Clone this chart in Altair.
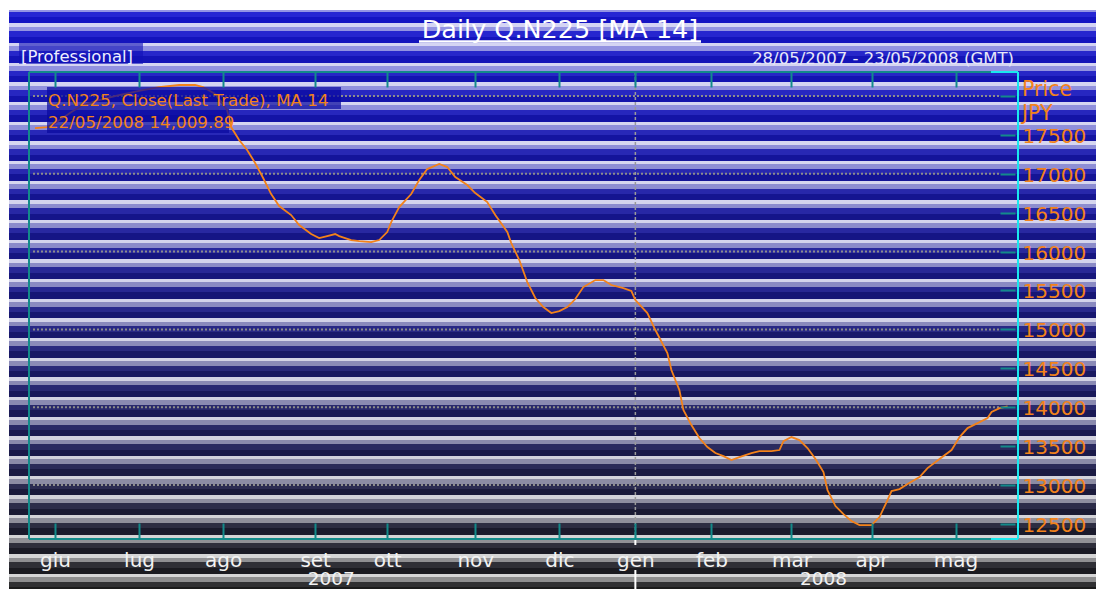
import altair as alt
import pandas as pd
import numpy as np

# ---------------- data ----------------
# x = trading-day index (0 = first trading day of June 2007)
day_idx = [-5, -2, 0, 4, 7, 11, 16, 21, 26, 31, 35, 37, 40, 43, 44, 46, 48, 50, 52, 54,
           56, 59, 61, 64, 66, 68, 70, 71, 74, 76, 79, 81, 83, 84, 86, 89, 91, 93, 96, 98,
           100, 103, 105, 108, 110, 113, 114, 116, 118, 120, 122, 124, 126, 128, 130, 132,
           135, 137, 139, 142, 144, 145, 148, 150, 153, 154, 156, 157, 159, 161, 163, 165,
           167, 169, 171, 174, 176, 179, 181, 182, 184, 186, 188, 190, 192, 193, 195, 197,
           199, 201, 204, 206, 208, 209, 211, 213, 216, 218, 221, 224, 226, 228, 231, 233,
           234, 236, 238]
ma14 = [17587, 17600, 17650, 17790, 17883, 17947, 18011, 18063, 18114, 18140, 18140, 18114,
        18024, 17819, 17600, 17433, 17305, 17137, 16945, 16739, 16585, 16469, 16341, 16225,
        16174, 16199, 16225, 16199, 16148, 16135, 16122, 16148, 16251, 16379, 16572, 16739,
        16919, 17060, 17125, 17086, 16958, 16855, 16752, 16636, 16469, 16251, 16109, 15891,
        15608, 15403, 15287, 15210, 15236, 15287, 15390, 15544, 15634, 15634, 15570, 15531,
        15493, 15377, 15210, 14992, 14696, 14478, 14220, 13964, 13771, 13604, 13488, 13411,
        13372, 13321, 13360, 13411, 13437, 13437, 13450, 13565, 13617, 13578, 13475, 13334,
        13167, 12935, 12730, 12627, 12537, 12486, 12486, 12589, 12807, 12923, 12948, 13013,
        13103, 13218, 13334, 13450, 13617, 13732, 13809, 13861, 13938, 13989, 14010]

month_tick_idx = [0, 21, 42, 65, 83, 105, 126, 145, 164, 184, 204, 225]
month_labels = ["giu", "lug", "ago", "set", "ott", "nov", "dic", "gen", "feb", "mar", "apr", "mag"]
year_labels = ["2007", "2008"]
year_label_idx = [69, 192]
year_break_idx = [145]
price_ticks = [12500, 13000, 13500, 14000, 14500, 15000, 15500, 16000, 16500, 17000, 17500, 18000]
grid_values = [13000, 14000, 15000, 16000, 17000, 18000]

title_text = "Daily Q.N225 [MA 14]"
edition_text = "[Professional]"
range_text = "28/05/2007 - 23/05/2008 (GMT)"
legend_line1 = "Q.N225, Close(Last Trade), MA 14"
legend_line2 = "22/05/2008 14,009.89"
axis_title_lines = ["Price", "JPY"]

# ---------------- style ----------------
FONT = "DejaVu Sans"
ORANGE = "#f3821a"
TEAL = "#138a8a"
CYAN = "#1ae8ee"
W, H = 989, 467

xscale = alt.Scale(domain=[-6.5, 240.6], nice=False, zero=False)
yscale = alt.Scale(domain=[12307, 18307], nice=False, zero=False)

line_df = pd.DataFrame({"idx": day_idx, "v": ma14})
one = pd.DataFrame({"a": [0]})

# ---------------- striped background (decoration) ----------------
def hex2rgb(h):
    return np.array([int(h[i:i + 2], 16) for i in (1, 3, 5)], dtype=float)

anch_y = [10, 150, 300, 450, 540, 589]
pal = {
    "light": ["#d4d4f4", "#d6d6f0", "#d2d2ea", "#d2d2de", "#d4d4d6", "#d6d6d6"],
    "medium": ["#9494e4", "#8e8ed8", "#8a8ac0", "#8a8aaa", "#909096", "#8c8c8c"],
    "blue": ["#2626d4", "#2828b4", "#28288e", "#2a2a5e", "#2e2e3c", "#303030"],
    "dark": ["#1414c6", "#14149c", "#161674", "#1a1a4a", "#1a1a28", "#1a1a1a"],
}

def col(kind, y):
    rgbs = np.array([hex2rgb(c) for c in pal[kind]])
    r = [np.interp(y, anch_y, rgbs[:, i]) for i in range(3)]
    return "#%02x%02x%02x" % tuple(int(round(v)) for v in r)

top_y, bot_y = 10.0, 589.0
period = 19.6
bands = [(0, 3.2, "light"), (3.2, 7.8, "medium"), (7.8, 13.2, "blue"), (13.2, period, "dark")]
stops = []
s = 43 - 3 * period
while s < bot_y:
    for a, b, kind in bands:
        y0, y1 = s + a, s + b
        if y1 <= top_y or y0 >= bot_y:
            continue
        c = col(kind, (y0 + y1) / 2)
        o0 = max(0.0, (y0 - top_y) / (bot_y - top_y))
        o1 = min(1.0, (y1 - top_y) / (bot_y - top_y))
        stops.append(alt.GradientStop(color=c, offset=round(o0, 5)))
        stops.append(alt.GradientStop(color=c, offset=round(o1, 5)))
    s += period

grad = alt.Gradient(gradient="linear", stops=stops, x1=0, x2=0, y1=0, y2=1)
bg = alt.Chart(one).mark_rect(fill=grad, strokeWidth=0).encode(
    x=alt.value(-20), x2=alt.value(1080), y=alt.value(top_y - 72), y2=alt.value(bot_y - 72 + 2))

# ---------------- grid + year divider ----------------
grid = alt.Chart(pd.DataFrame({"g": grid_values})).mark_rule(
    color="#8c8c8c", strokeWidth=2, strokeDash=[2, 2]).encode(
    y=alt.Y("g:Q", scale=yscale, axis=None), x=alt.value(4), x2=alt.value(970))

ydiv_df = pd.DataFrame({"i": year_break_idx})
ydiv = alt.Chart(ydiv_df).mark_rule(color="#9a9a9a", strokeWidth=1.5, strokeDash=[3, 2]).encode(
    x=alt.X("i:Q", scale=xscale, axis=None), y=alt.value(0), y2=alt.value(H))
ydiv_w1 = alt.Chart(ydiv_df).mark_rule(color="white", strokeWidth=2).encode(
    x=alt.X("i:Q", scale=xscale, axis=None), y=alt.value(H + 1), y2=alt.value(H + 6))
ydiv_w2 = alt.Chart(ydiv_df).mark_rule(color="white", strokeWidth=2).encode(
    x=alt.X("i:Q", scale=xscale, axis=None), y=alt.value(H + 31), y2=alt.value(H + 52))

# ---------------- axes ----------------
label_expr = "[" + ",".join("'%s'" % m for m in month_labels) + "][indexof([" + \
    ",".join(str(v) for v in month_tick_idx) + "], datum.value)]"

bottom_axis = alt.Axis(orient="bottom", values=month_tick_idx, labelExpr=label_expr, offset=-16,
                       tickSize=16, tickWidth=2, tickColor=TEAL, domain=False, grid=False,
                       labelFont=FONT, labelFontSize=20, labelColor="#f2f2f2",
                       labelBaseline="alphabetic", labelPadding=27, labelAlign="center",
                       labelOverlap=False, labelFlush=False, title=None, zindex=2)
top_axis = alt.Axis(orient="top", values=month_tick_idx, labels=False, offset=-15, tickSize=15,
                    tickWidth=2, tickColor=TEAL, domain=False, grid=False, title=None, zindex=2)
right_axis = alt.Axis(orient="right", values=price_ticks, offset=-18, tickSize=15, tickWidth=2,
                      tickColor=TEAL, domain=False, grid=False, format="d",
                      labelExpr="datum.value >= 18000 ? '' : datum.label",
                      labelFont=FONT, labelFontSize=20, labelColor=ORANGE, labelPadding=7,
                      labelBaseline="middle", labelOffset=1.5, labelOverlap=False, labelFlush=False,
                      title=None, zindex=2)

line = alt.Chart(line_df).mark_line(color=ORANGE, strokeWidth=1.8).encode(
    x=alt.X("idx:Q", scale=xscale, axis=bottom_axis),
    y=alt.Y("v:Q", scale=yscale, axis=right_axis))
top_ax_layer = alt.Chart(line_df).mark_line(opacity=0).encode(
    x=alt.X("idx:Q", scale=xscale, axis=top_axis),
    y=alt.Y("v:Q", scale=yscale, axis=None))

# ---------------- boxes, frame, texts ----------------
def box(x0, x1, y0, y1, fill, op):
    return alt.Chart(one).mark_rect(fill=fill, opacity=op).encode(
        x=alt.value(x0), x2=alt.value(x1), y=alt.value(y0), y2=alt.value(y1))

def rule(color, **kw):
    enc = {k: alt.value(v) for k, v in kw.items()}
    return alt.Chart(one).mark_rule(color=color, strokeWidth=2).encode(**enc)

def txt(text, x, y, size, color, align="left"):
    return alt.Chart(pd.DataFrame({"t": [text]})).mark_text(
        align=align, baseline="alphabetic", font=FONT, fontSize=size, color=color).encode(
        text="t:N", x=alt.value(x), y=alt.value(y))

legend_boxes = [box(18, 312, 15, 37, "#0a0aa0", 0.72), box(18, 200, 37, 61, "#0a0aa0", 0.72)]
prof_box = box(-10, 114, -29, -8, "#1010b8", 0.6)

frame = [
    rule(TEAL, x=0, y=0, y2=H),
    rule(TEAL, x=0, x2=962, y=0),
    rule(TEAL, x=0, x2=962, y=H),
    rule(CYAN, x=962, x2=989, y=0),
    rule(CYAN, x=962, x2=989, y=H),
    rule(CYAN, x=989, y=0, y2=H),
]

title_under = alt.Chart(one).mark_rule(color="white", strokeWidth=2.5).encode(
    x=alt.value(390), x2=alt.value(672), y=alt.value(-30.5))

texts = [
    txt(title_text, 531, -34, 25.5, "white", "center"),
    txt(edition_text, -8, -10, 16.5, "#eeeeff"),
    txt(range_text, 985, -8, 16.5, "#e8e8f8", "right"),
    txt(legend_line1, 19, 34, 16.7, ORANGE),
    txt(legend_line2, 19, 56, 16.7, ORANGE),
    txt(axis_title_lines[0], 993, 24, 20.5, ORANGE),
    txt(axis_title_lines[1], 993, 47.5, 20.5, ORANGE),
]

years = alt.Chart(pd.DataFrame({"i": year_label_idx, "t": year_labels})).mark_text(
    align="center", baseline="alphabetic", font=FONT, fontSize=18.5, color="#f2f2f2").encode(
    x=alt.X("i:Q", scale=xscale, axis=None), y=alt.value(H + 46), text="t:N")

layers = [bg, grid, ydiv, ydiv_w1, ydiv_w2, line, top_ax_layer] + legend_boxes + [prof_box] + \
    frame + [title_under] + texts + [years]

chart = alt.layer(*layers).resolve_axis(x="independent", y="independent").properties(
    width=W, height=H,
    autosize=alt.AutoSizeParams(type="none"),
    padding={"left": 21, "top": 64, "right": 78, "bottom": 50},
    background="white",
).configure_view(stroke=None)

chart.save("out.html", embed_options={"renderer": "svg", "actions": False})
